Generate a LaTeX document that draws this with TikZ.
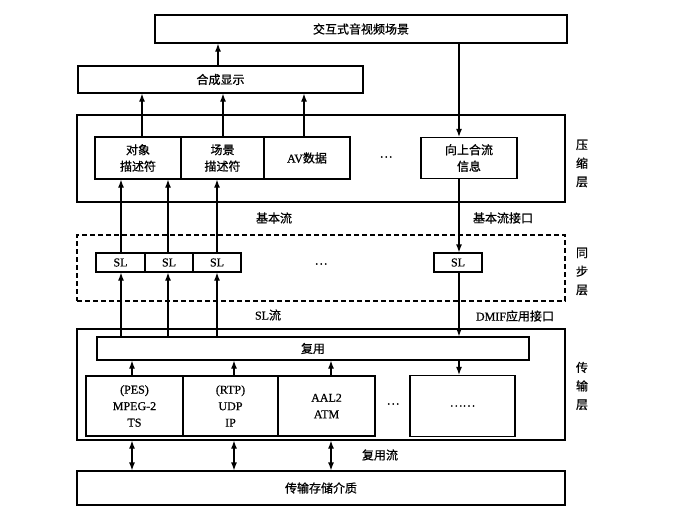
\documentclass[tikz,border=0pt]{standalone}
\usepackage{fontspec}
\setmainfont{Liberation Serif}[FakeBold=0.6]
\newfontfamily\cjk{Noto Sans CJK SC}[FakeBold=0.8]
\usetikzlibrary{arrows.meta}
\begin{document}
\begin{tikzpicture}[x=1pt,y=-1pt,
  box/.style={draw,line width=1.2pt,inner sep=0pt,align=center,font=\fontsize{12}{16.5}\selectfont},
  layer/.style={draw,line width=1.2pt,inner sep=0pt},
  dlayer/.style={draw,line width=1.2pt,dash pattern=on 5pt off 3pt,inner sep=0pt},
  arr/.style={line width=1.2pt,-{Latex[length=8pt,width=6pt]}},
  darr/.style={line width=1.2pt,{Latex[length=8pt,width=6pt]}-{Latex[length=8pt,width=6pt]}},
  lbl/.style={inner sep=0pt,font=\fontsize{12}{14}\selectfont},
  vlbl/.style={inner sep=0pt,align=center,font=\fontsize{12}{18.5}\selectfont\cjk}]
\useasboundingbox (0,0) rectangle (673,517);
% top
\node[box,minimum width=412pt,minimum height=28pt] (top) at (361,29) {\cjk 交互式音视频场景};
\node[box,minimum width=285pt,minimum height=27pt] (comp) at (220.5,79.5) {\cjk 合成显示};
% compression layer
\node[layer,minimum width=488pt,minimum height=87pt] (clayer) at (321,158.5) {};
\node[box,minimum width=86pt,minimum height=42pt] (obj) at (138,158) {\cjk 对象\\\cjk 描述符};
\node[box,minimum width=83pt,minimum height=42pt] (scn) at (222.5,158) {\cjk 场景\\\cjk 描述符};
\node[box,minimum width=86pt,minimum height=42pt] (av) at (307,158) {AV{\cjk 数据}};
\node[lbl] (dots1) at (386,157) {\cjk …};
\node[box,minimum width=96pt,minimum height=41pt] (up) at (469,158) {\cjk 向上合流\\\cjk 信息};
\node[vlbl] (clbl) at (582,163.5) {压\\缩\\层};
% sync layer
\node[dlayer,minimum width=488pt,minimum height=66pt] (slayer) at (321,268) {};
\node[box,minimum width=49pt,minimum height=19pt] (sl1) at (120.5,262.5) {SL};
\node[box,minimum width=48pt,minimum height=19pt] (sl2) at (169,262.5) {SL};
\node[box,minimum width=48pt,minimum height=19pt] (sl3) at (217,262.5) {SL};
\node[lbl] (dots2) at (321,264) {\cjk …};
\node[box,minimum width=48pt,minimum height=19pt] (slr) at (458,262.5) {SL};
\node[vlbl] (slbl) at (582,271.5) {同\\步\\层};
% transport layer
\node[layer,minimum width=488pt,minimum height=111pt] (tlayer) at (321,384.5) {};
\node[box,minimum width=432pt,minimum height=23pt] (mux) at (313,348.5) {\cjk 复用};
\node[box,minimum width=97pt,minimum height=60pt] (pes) at (134.5,406) {(PES)\\MPEG-2\\TS};
\node[box,minimum width=95pt,minimum height=60pt] (rtp) at (230.5,406) {(RTP)\\UDP\\IP};
\node[box,minimum width=97pt,minimum height=60pt] (aal) at (326.5,406) {AAL2\\ATM};
\node[lbl] (dots3) at (393,404) {\cjk …};
\node[box,minimum width=105pt,minimum height=61pt] (more) at (462.5,406) {\cjk ……};
\node[vlbl] (tlbl) at (582,386) {传\\输\\层};
% storage
\node[box,minimum width=488pt,minimum height=34pt] (store) at (321,488) {\cjk 传输存储介质};
% labels
\node[lbl] (l1) at (274,218) {\cjk 基本流};
\node[lbl] (l2) at (503,218) {\cjk 基本流接口};
\node[lbl] (l3) at (268,315) {SL{\cjk 流}};
\node[lbl] (l4) at (515,316) {DMIF{\cjk 应用接口}};
\node[lbl] (l5) at (380,455) {\cjk 复用流};
% x positions
\coordinate (xa) at (218,0);
\coordinate (xr) at (459,0);
\coordinate (xc1) at (142,0);
\coordinate (xc2) at (223,0);
\coordinate (xc3) at (304,0);
\coordinate (xs1) at (121,0);
\coordinate (xs2) at (168,0);
\coordinate (xs3) at (217,0);
\coordinate (xp1) at (132,0);
\coordinate (xp2) at (234,0);
\coordinate (xp3) at (331,0);
% connectors
\draw[arr] (comp.north -| xa) -- (top.south -| xa);
\draw[arr] (obj.north -| xc1) -- (comp.south -| xc1);
\draw[arr] (scn.north -| xc2) -- (comp.south -| xc2);
\draw[arr] (av.north -| xc3) -- (comp.south -| xc3);
\draw[arr] (top.south -| xr) -- (up.north -| xr);
\draw[arr] (up.south -| xr) -- (slr.north -| xr);
\draw[arr] (slr.south -| xr) -- (mux.north -| xr);
\draw[arr] (mux.south -| xr) -- (more.north -| xr);
\draw[arr] (sl1.north -| xs1) -- (obj.south -| xs1);
\draw[arr] (sl2.north -| xs2) -- (obj.south -| xs2);
\draw[arr] (sl3.north -| xs3) -- (scn.south -| xs3);
\draw[arr] (mux.north -| xs1) -- (sl1.south -| xs1);
\draw[arr] (mux.north -| xs2) -- (sl2.south -| xs2);
\draw[arr] (mux.north -| xs3) -- (sl3.south -| xs3);
\draw[arr] (pes.north -| xp1) -- (mux.south -| xp1);
\draw[arr] (rtp.north -| xp2) -- (mux.south -| xp2);
\draw[arr] (aal.north -| xp3) -- (mux.south -| xp3);
\draw[darr] (tlayer.south -| xp1) -- (store.north -| xp1);
\draw[darr] (tlayer.south -| xp2) -- (store.north -| xp2);
\draw[darr] (tlayer.south -| xp3) -- (store.north -| xp3);
\end{tikzpicture}
\end{document}
